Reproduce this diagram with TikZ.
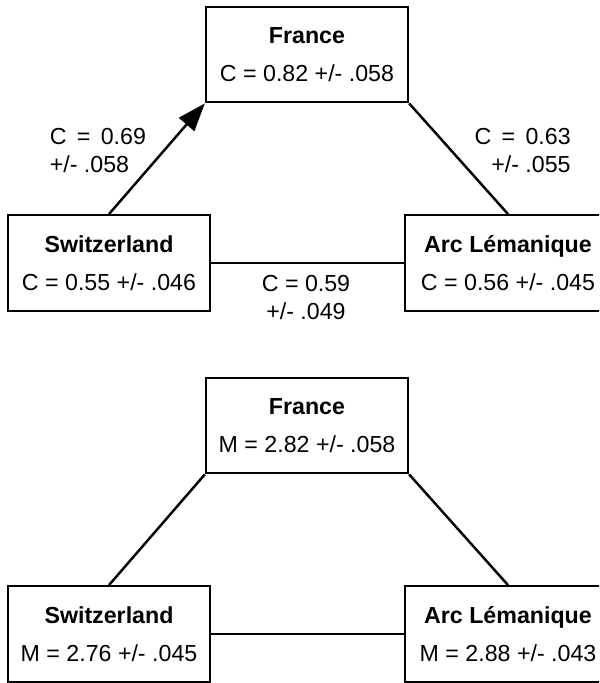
\documentclass[tikz,border=0pt]{standalone}
\usepackage{fontspec}
\setmainfont{Liberation Sans}
\usepackage{tikz}
\usetikzlibrary{
	arrows.meta,
	calc,
	positioning
}

\begin{document}
\begin{tikzpicture}[
		regionbox/.style={draw, line width=1.3pt, minimum width=4.04cm, minimum height=1.91cm, inner sep=0pt, align=center, font=\fontsize{13.2}{21.6}\selectfont},
		edgelabel/.style={inner sep=0pt, font=\fontsize{13.2}{16}\selectfont},
		link/.style={line width=1.4pt}
	]
		\useasboundingbox (0,0) rectangle (11.98,13.66);
		\clip (0,0) rectangle (11.98,13.66);
		\coordinate (F) at (6.14,12.57);
		\coordinate (S) at (2.18,8.40);
		\coordinate (A) at (10.12,8.40);
		\coordinate (shift) at (0,-7.42);
		\node[regionbox] (france) at (F) {\textbf{France}\\C = 0.82 +/- .058};
		\node[regionbox] (swiss) at (S) {\textbf{Switzerland}\\C = 0.55 +/- .046};
		\node[regionbox, minimum width=4.12cm] (arc) at ($(A)+(0.04,0)$) {\textbf{Arc Lémanique}\\C = 0.56 +/- .045};
		\draw[link, -{Triangle[length=0.56cm, width=0.4cm]}] (swiss.north) -- (france.south west);
		\draw[link] (france.south east) -- (arc.north);
		\draw[link] (swiss.east) -- (arc.west);
		\node[edgelabel, align=left, anchor=west] (lblSF) at (0.99,10.65) {C \,= \,0.69\\+/- .058};
		\node[edgelabel, align=right, anchor=east] (lblFA) at (11.42,10.65) {C \,= \,0.63\\+/- .055};
		\node[edgelabel, align=center] (lblSA) at (6.12,7.71) {C = 0.59\\+/- .049};
		\node[regionbox] (franceM) at ($(F)+(shift)$) {\textbf{France}\\M = 2.82 +/- .058};
		\node[regionbox] (swissM) at ($(S)+(shift)$) {\textbf{Switzerland}\\M = 2.76 +/- .045};
		\node[regionbox, minimum width=4.12cm] (arcM) at ($(A)+(shift)+(0.04,0)$) {\textbf{Arc Lémanique}\\M = 2.88 +/- .043};
		\draw[link] (swissM.north) -- (franceM.south west);
		\draw[link] (franceM.south east) -- (arcM.north);
		\draw[link] (swissM.east) -- (arcM.west);
	\end{tikzpicture}
\end{document}
